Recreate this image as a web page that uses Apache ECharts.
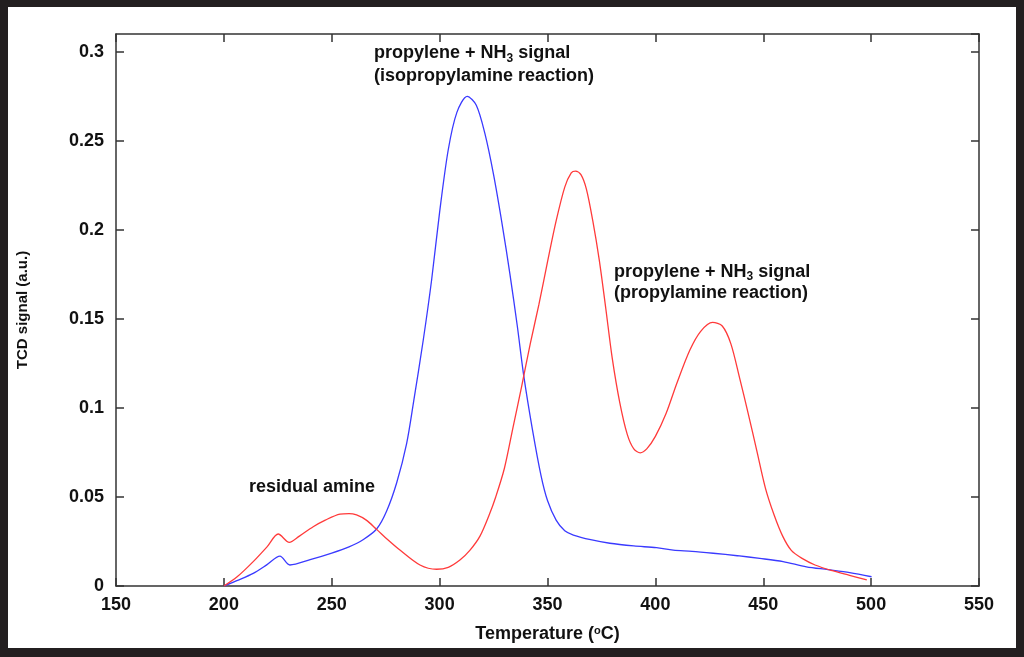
<!DOCTYPE html>
<html>
<head>
<meta charset="utf-8">
<script src="https://cdn.jsdelivr.net/npm/echarts@6/dist/echarts.min.js"></script>
<style>
html,body{margin:0;padding:0;background:#fff;}
#chart{width:1024px;height:657px;}
</style>
</head>
<body>
<div id="chart"></div>
<script>
// Isopropylamine reaction (blue)
const tempIso = [200, 206, 213.6, 220, 226, 230.6, 240, 250, 258, 264.5, 270.8, 275.4, 280.1, 284.7, 288, 292.4, 296.3, 300, 304, 308, 312.8, 317, 321, 325, 329, 332.6, 336, 339, 343, 347, 350, 354, 358, 362, 370, 378.9, 390, 400.5, 408.3, 417, 426.8, 438, 448.4, 459.2, 470, 480, 490.1, 500.2];
const tcdIso  = [0, 0.003, 0.0071, 0.012, 0.0168, 0.0118, 0.0148, 0.0185, 0.022, 0.026, 0.032, 0.042, 0.058, 0.080, 0.104, 0.138, 0.172, 0.210, 0.245, 0.266, 0.275, 0.270, 0.254, 0.231, 0.203, 0.175, 0.146, 0.118, 0.088, 0.062, 0.048, 0.037, 0.031, 0.0286, 0.026, 0.024, 0.0225, 0.0215, 0.0202, 0.0195, 0.0184, 0.017, 0.0155, 0.0137, 0.0108, 0.0092, 0.0075, 0.0052];

// Propylamine reaction (red)
const tempPro = [200, 206, 213.6, 220, 225.2, 230.3, 235, 241.4, 247, 253.8, 258, 261.5, 266, 270.8, 276, 281.6, 290.9, 298.6, 304, 309.4, 314, 318.7, 323, 326, 330, 334, 338, 342, 346, 350, 354, 358, 361, 363, 365.5, 368, 371, 374, 377, 380, 383.5, 387, 390, 393, 396, 400, 405, 410, 416, 421, 426.5, 431, 435, 439, 443, 447, 451, 455, 459, 463, 468, 474, 482, 490, 498];
const tcdPro  = [0, 0.005, 0.0137, 0.022, 0.0292, 0.0245, 0.028, 0.0333, 0.037, 0.0404, 0.0407, 0.0399, 0.037, 0.0318, 0.026, 0.0202, 0.0118, 0.0094, 0.0105, 0.0146, 0.02, 0.028, 0.04, 0.05, 0.066, 0.089, 0.112, 0.136, 0.158, 0.182, 0.205, 0.224, 0.232, 0.233, 0.231, 0.223, 0.205, 0.183, 0.156, 0.128, 0.103, 0.085, 0.077, 0.0748, 0.077, 0.084, 0.097, 0.114, 0.1325, 0.143, 0.148, 0.146, 0.136, 0.117, 0.097, 0.076, 0.055, 0.040, 0.028, 0.020, 0.0155, 0.0118, 0.0086, 0.006, 0.0034];

// Axis ranges
const xRange = [150, 550], xStep = 50;
const yRange = [0, 0.31], yStep = 0.05;

// Annotation texts
const noteIso = 'propylene + NH{sub|3} signal\n(isopropylamine reaction)';
const notePro = 'propylene + NH{sub|3} signal\n(propylamine reaction)';
const noteRes = 'residual amine';

const FONT = '"Liberation Sans", Arial, Helvetica, sans-serif';
const AX = '#333';

const chart = echarts.init(document.getElementById('chart'), null, {renderer: 'canvas'});

function pairs(xs, ys) { return xs.map((x, i) => [x, ys[i]]); }

const subRich = {
  sub: {fontSize: 12, fontWeight: 'bold', fontFamily: FONT, fill: '#111', lineHeight: 12, verticalAlign: 'bottom'}
};

function note(text, x, y, lh) {
  return {
    type: 'text', x: x, y: y, z: 10,
    style: {
      text: text, fill: '#111', fontSize: 18, fontWeight: 'bold', fontFamily: FONT,
      lineHeight: lh, align: 'left', verticalAlign: 'middle',
      rich: subRich
    }
  };
}

const tickStyle = {show: true, inside: true, length: 8, lineStyle: {color: AX, width: 1.5}};

chart.setOption({
  backgroundColor: '#fff',
  animation: false,
  grid: {left: 116, top: 34, right: 45, bottom: 71, containLabel: false},
  xAxis: [
    {
      type: 'value', min: xRange[0], max: xRange[1], interval: xStep,
      position: 'bottom',
      axisLine: {show: true, onZero: false, lineStyle: {color: AX, width: 1.5}},
      axisTick: tickStyle,
      splitLine: {show: false},
      axisLabel: {color: '#111', fontSize: 18, fontWeight: 'bold', fontFamily: FONT, margin: 10},
      name: 'Temperature ({sup|o}C)',
      nameLocation: 'middle', nameGap: 39,
      nameTextStyle: {
        color: '#111', fontSize: 18, fontWeight: 'bold', fontFamily: FONT,
        rich: {sup: {fontSize: 11, fontWeight: 'bold', fontFamily: FONT, color: '#111', verticalAlign: 'top', lineHeight: 10}}
      }
    },
    {
      type: 'value', min: xRange[0], max: xRange[1], interval: xStep,
      position: 'top',
      axisLine: {show: true, onZero: false, lineStyle: {color: AX, width: 1.5}},
      axisTick: tickStyle,
      axisLabel: {show: false},
      splitLine: {show: false}
    }
  ],
  yAxis: [
    {
      type: 'value', min: yRange[0], max: yRange[1], interval: yStep,
      position: 'left',
      axisLine: {show: true, onZero: false, lineStyle: {color: AX, width: 1.5}},
      axisTick: tickStyle,
      splitLine: {show: false},
      axisLabel: {color: '#111', fontSize: 18, fontWeight: 'bold', fontFamily: FONT, margin: 12, showMaxLabel: false},
      name: 'TCD signal (a.u.)',
      nameLocation: 'middle', nameGap: 86,
      nameTextStyle: {color: '#111', fontSize: 15, fontWeight: 'bold', fontFamily: FONT}
    },
    {
      type: 'value', min: yRange[0], max: yRange[1], interval: yStep,
      position: 'right',
      axisLine: {show: true, onZero: false, lineStyle: {color: AX, width: 1.5}},
      axisTick: tickStyle,
      axisLabel: {show: false},
      splitLine: {show: false}
    }
  ],
  series: [
    {
      type: 'line', name: 'isopropylamine', data: pairs(tempIso, tcdIso),
      xAxisIndex: 0, yAxisIndex: 0,
      showSymbol: false, smooth: 0.3,
      lineStyle: {color: '#3a3aff', width: 1.3}
    },
    {
      type: 'line', name: 'propylamine', data: pairs(tempPro, tcdPro),
      xAxisIndex: 0, yAxisIndex: 0,
      showSymbol: false, smooth: 0.3,
      lineStyle: {color: '#ff3a3a', width: 1.3}
    }
  ],
  graphic: [
    note(noteIso, 374, 65, 23),
    note(notePro, 614, 283, 21),
    note(noteRes, 249, 487, 20),
    {type: 'rect', shape: {x: 0, y: 0, width: 1024, height: 7}, style: {fill: '#231f20'}, z: 20},
    {type: 'rect', shape: {x: 0, y: 648, width: 1024, height: 9}, style: {fill: '#231f20'}, z: 20},
    {type: 'rect', shape: {x: 0, y: 0, width: 8, height: 657}, style: {fill: '#231f20'}, z: 20},
    {type: 'rect', shape: {x: 1016, y: 0, width: 8, height: 657}, style: {fill: '#231f20'}, z: 20}
  ]
});
</script>
</body>
</html>
